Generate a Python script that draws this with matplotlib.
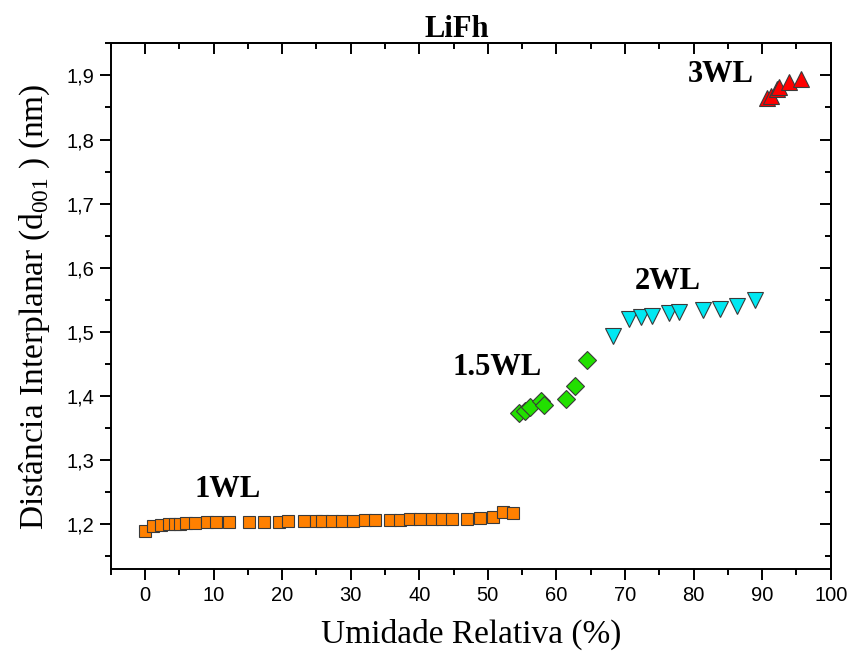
import matplotlib
matplotlib.use('Agg')
import matplotlib.pyplot as plt
from matplotlib.ticker import MultipleLocator, FuncFormatter

# 1WL - quadrados laranja
ur_1wl = [0.0, 1.1, 2.4, 3.5, 4.4, 5.1, 6.0, 7.3, 9.1, 10.4, 12.3, 15.1, 17.3,
          19.6, 20.9, 23.2, 25.0, 25.8, 27.3, 28.8, 30.4, 32.1, 33.6, 35.75,
          37.2, 38.7, 40.1, 41.8, 43.3, 44.75, 46.9, 48.9, 50.8, 52.2, 53.65]
d_1wl = [1.189, 1.197, 1.199, 1.200, 1.201, 1.201, 1.202, 1.202, 1.203, 1.203,
         1.204, 1.204, 1.204, 1.204, 1.205, 1.205, 1.205, 1.206, 1.206, 1.206,
         1.206, 1.207, 1.207, 1.207, 1.207, 1.208, 1.208, 1.208, 1.208, 1.208,
         1.209, 1.210, 1.212, 1.220, 1.218]

# 1.5WL - losangos verdes
ur_15wl = [54.6, 55.4, 56.2, 57.8, 58.2, 61.4, 62.7, 64.5]
d_15wl = [1.373, 1.377, 1.383, 1.393, 1.386, 1.396, 1.415, 1.456]

# 2WL - triangulos ciano
ur_2wl = [68.3, 70.6, 72.3, 74.0, 76.4, 77.8, 81.4, 83.8, 86.4, 89.0]
d_2wl = [1.493, 1.520, 1.524, 1.5255, 1.529, 1.531, 1.534, 1.536, 1.540, 1.550]

# 3WL - triangulos vermelhos
ur_3wl = [90.7, 91.3, 92.2, 92.5, 93.9, 95.6]
d_3wl = [1.864, 1.868, 1.878, 1.882, 1.889, 1.895]

plt.rcParams['mathtext.fontset'] = 'custom'
plt.rcParams['mathtext.rm'] = 'Liberation Serif'

fig = plt.figure(figsize=(8.51, 6.59), dpi=100)
ax = fig.add_axes([0.1301, 0.1361, 0.8461, 0.7982])

ec = '#3a3a3a'
ax.plot(ur_1wl, d_1wl, 's', ms=8, mfc='#ff8000', mec=ec, mew=0.8)
ax.plot(ur_15wl, d_15wl, 'D', ms=8.8, mfc='#22e000', mec=ec, mew=0.8)
ax.plot(ur_2wl, d_2wl, 'v', ms=11, mfc='#00e8f2', mec=ec, mew=0.8)
ax.plot(ur_3wl, d_3wl, '^', ms=11, mfc='#ff0000', mec=ec, mew=0.8)

bold = dict(family='Liberation Serif', fontweight='bold', fontsize=22,
            ha='center', va='center')
ax.text(12.1, 1.2547, '1WL', **bold)
ax.text(51.3, 1.4445, '1.5WL', **bold)
ax.text(76.3, 1.578, '2WL', **bold)
ax.text(84.0, 1.9016, '3WL', **bold)

ax.set_xlim(-5, 100)
ax.set_ylim(1.13, 1.95)

ax.xaxis.set_major_locator(MultipleLocator(10))
ax.xaxis.set_minor_locator(MultipleLocator(5))
ax.yaxis.set_major_locator(MultipleLocator(0.1))
ax.yaxis.set_minor_locator(MultipleLocator(0.05))
ax.yaxis.set_major_formatter(FuncFormatter(lambda v, p: f'{v:.1f}'.replace('.', ',')))

for s in ax.spines.values():
    s.set_linewidth(1.4)
ax.tick_params(which='major', direction='out', length=8, width=1.4,
               labelsize=14.5, pad=4)
ax.tick_params(which='minor', direction='out', length=4, width=1.4)
for lab in ax.get_xticklabels() + ax.get_yticklabels():
    lab.set_family('Liberation Sans')

# eixos de cima e da direita com ticks para dentro
top = ax.secondary_xaxis('top')
top.xaxis.set_major_locator(MultipleLocator(10))
top.xaxis.set_minor_locator(MultipleLocator(5))
top.tick_params(which='major', direction='in', length=8, width=1.4, labeltop=False)
top.tick_params(which='minor', direction='in', length=4, width=1.4)
top.spines['top'].set_linewidth(1.4)

right = ax.secondary_yaxis('right')
right.yaxis.set_major_locator(MultipleLocator(0.1))
right.yaxis.set_minor_locator(MultipleLocator(0.05))
right.tick_params(which='major', direction='in', length=8, width=1.4, labelright=False)
right.tick_params(which='minor', direction='in', length=4, width=1.4)
right.spines['right'].set_linewidth(1.4)

ax.set_xlabel('Umidade Relativa (%)', family='Liberation Serif', fontsize=24, labelpad=10)
ax.set_ylabel('Distância Interplanar (d$_{\\mathrm{001}}$ ) (nm)',
              family='Liberation Serif', fontsize=24, labelpad=10)

fig.text(457 / 851, 1 - 37 / 659, 'LiFh', family='Liberation Serif',
         fontweight='bold', fontsize=22, ha='center', va='baseline')

fig.savefig('out.png', dpi=100)
